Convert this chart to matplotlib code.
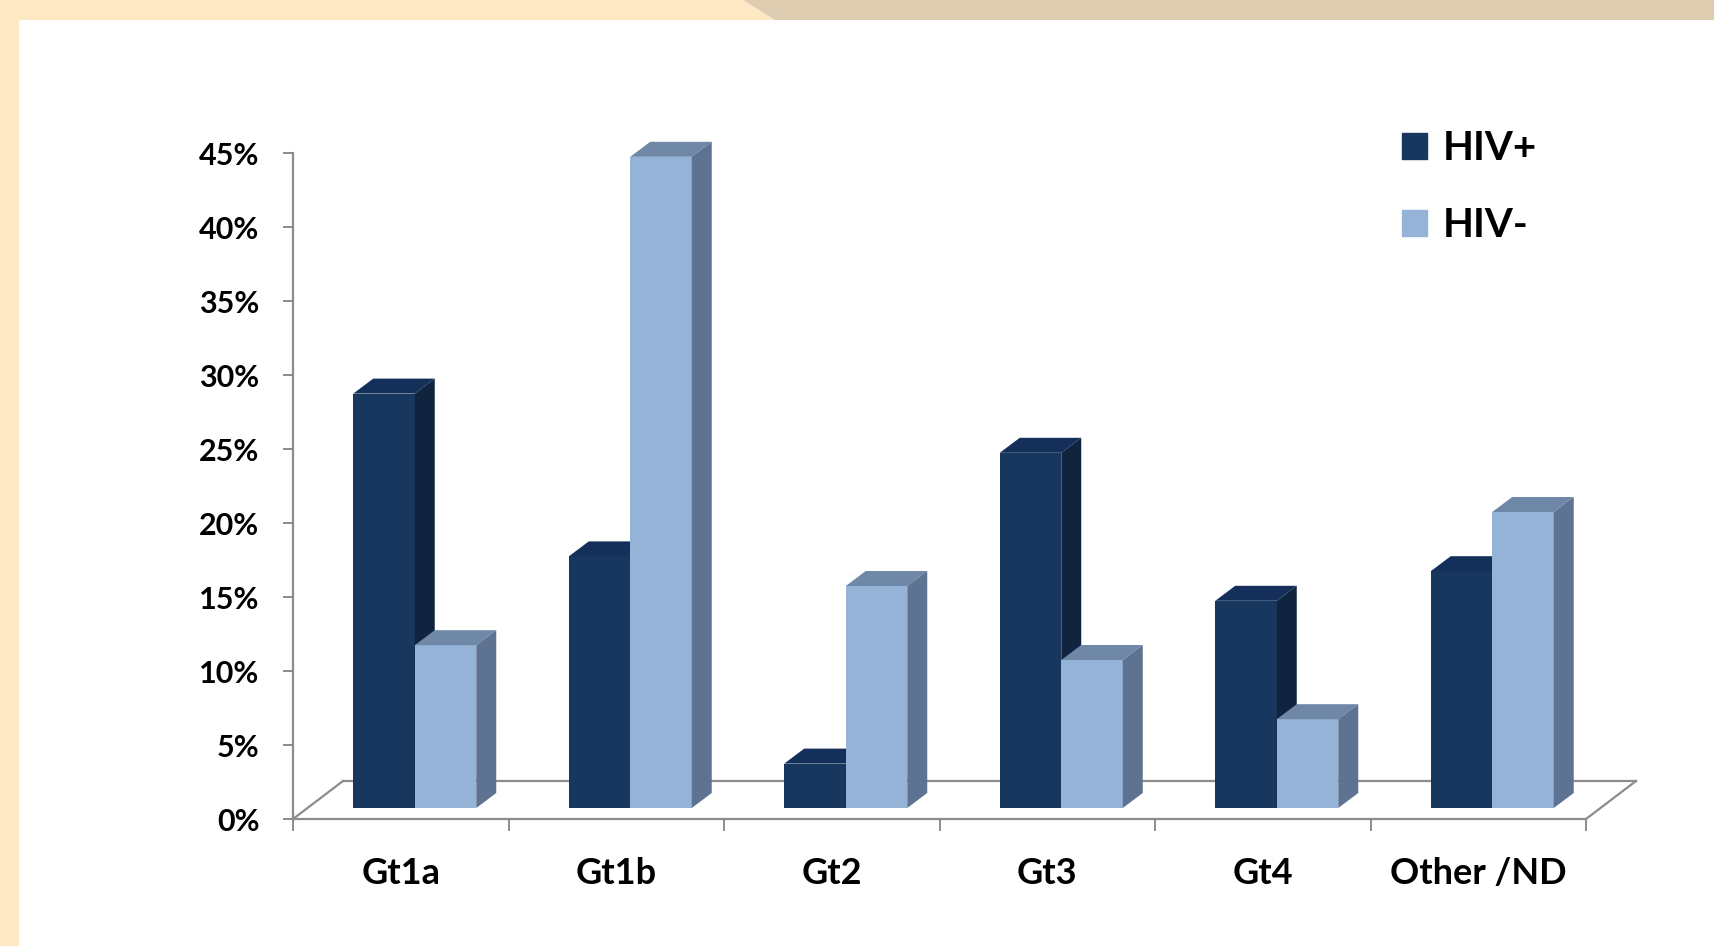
import matplotlib

matplotlib.use("Agg")
import matplotlib.pyplot as plt
from matplotlib.patches import Patch, Polygon, Rectangle

categories = ["Gt1a", "Gt1b", "Gt2", "Gt3", "Gt4", "Other /ND"]
hiv_pos = [28, 17, 3, 24, 14, 16]
hiv_neg = [11, 44, 15, 10, 6, 20]
series_names = ["HIV+", "HIV-"]
y_ticks = [0, 5, 10, 15, 20, 25, 30, 35, 40, 45]

# colours: front, top, side
pos_cols = ("#17375e", "#14305a", "#10243f")
neg_cols = ("#95b3d7", "#6f88a8", "#5e7391")
axis_grey = "#8c8c8c"

W, H = 1714, 946
fig = plt.figure(figsize=(W / 100, H / 100), dpi=100)
fig.patch.set_facecolor("white")
plt.rcParams["font.family"] = ["Lato", "DejaVu Sans"]

# slide decoration: cream strip left/top, tan strip top right
fig.add_artist(Rectangle((0, 0), 19 / W, 1, transform=fig.transFigure,
                         color="#ffe9c5", lw=0))
fig.add_artist(Polygon([(0, 1), (743 / W, 1), (775 / W, 1 - 20 / H), (0, 1 - 20 / H)],
                       closed=True, transform=fig.transFigure, color="#ffe9c5", lw=0))
fig.add_artist(Polygon([(743 / W, 1), (1, 1), (1, 1 - 20 / H), (775 / W, 1 - 20 / H)],
                       closed=True, transform=fig.transFigure, color="#ddccb0", lw=0))

# front plane of the 3-D box
x0px, x1px, y0px, y1px = 293, 1586, 819, 153
ax = fig.add_axes([x0px / W, (H - y0px) / H, (x1px - x0px) / W, (y0px - y1px) / H])
n = len(categories)
ax.set_xlim(0, n)
ax.set_ylim(0, 45)
ax.set_facecolor("none")
ux = n / (x1px - x0px)
uy = 45 / (y0px - y1px)

# depth offsets in pixels -> data units
floor_dx, floor_dy = 50 * ux, 38 * uy
front_dx, front_dy = 14 * ux, 11 * uy
bar_dx, bar_dy = 20 * ux, 15 * uy
bw = 61.5 * ux
gap = (1 - 2 * bw) / 2

# floor outline
line_kw = dict(color=axis_grey, lw=1.6, clip_on=False)
ax.plot([floor_dx, n + floor_dx], [floor_dy, floor_dy], zorder=1, **line_kw)
ax.plot([0, floor_dx], [0, floor_dy], zorder=1, **line_kw)
ax.plot([n, n + floor_dx], [0, floor_dy], zorder=1, **line_kw)

z = 3
for i in range(n):
    for j, (vals, cols) in enumerate([(hiv_pos, pos_cols), (hiv_neg, neg_cols)]):
        v = vals[i]
        xl = i + gap + j * bw + front_dx
        xr = xl + bw
        b = front_dy
        top = b + v
        ax.bar(xl, v, width=bw, bottom=b, align="edge", color=cols[0],
               lw=0, zorder=z, clip_on=False)
        ax.add_patch(Polygon([(xl, top), (xr, top), (xr + bar_dx, top + bar_dy),
                              (xl + bar_dx, top + bar_dy)], closed=True,
                             color=cols[1], lw=0, zorder=z, clip_on=False))
        ax.add_patch(Polygon([(xr, b), (xr, top), (xr + bar_dx, top + bar_dy),
                              (xr + bar_dx, b + bar_dy)], closed=True,
                             color=cols[2], lw=0, zorder=z, clip_on=False))
        z += 1

for side in ["top", "right"]:
    ax.spines[side].set_visible(False)
for side in ["left", "bottom"]:
    ax.spines[side].set_color(axis_grey)
    ax.spines[side].set_linewidth(1.6)
    ax.spines[side].set_zorder(50)

ax.set_yticks(y_ticks)
ax.set_yticklabels([f"{t}%" for t in y_ticks], fontsize=22, fontweight="bold")
ax.tick_params(axis="y", length=7.2, width=1.4, color=axis_grey, pad=17)

ax.set_xticks(range(n + 1))
ax.set_xticklabels([])
ax.tick_params(axis="x", which="major", length=8.6, width=1.4, color=axis_grey)
ax.set_xticks([i + 0.5 for i in range(n)], minor=True)
ax.set_xticklabels(categories, minor=True, fontsize=26, fontweight="bold")
ax.tick_params(axis="x", which="minor", length=0, pad=27)

handles = [Patch(color=pos_cols[0]), Patch(color=neg_cols[0])]
fig.legend(handles, series_names, loc="upper left",
           bbox_to_anchor=(1402 / W, 1 - 130 / H), frameon=False,
           prop=dict(family=["Lato", "DejaVu Sans"], weight="bold", size=29),
           handlelength=0.62, handleheight=0.62, handletextpad=0.4,
           labelspacing=1.0, borderpad=0, borderaxespad=0)

fig.savefig("out.png", dpi=100)
